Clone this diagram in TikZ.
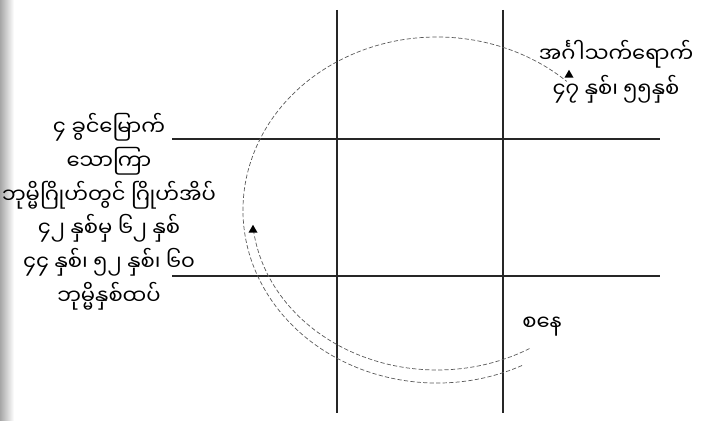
\documentclass[tikz,border=0pt]{standalone}
\usepackage{fontspec}
\newfontfamily\mmfont[Script=Myanmar]{Noto Sans Myanmar UI}
\usepackage{tikz}
\usetikzlibrary{shapes.geometric}
\tikzset{
  % grid lines of the chart
  gridline/.style={line width=0.8pt, black!85},
  % dashed paths round the chart
  orbit/.style={dash pattern=on 3pt off 1.6pt, line width=0.5pt, black!65},
  marker/.style={regular polygon, regular polygon sides=3, fill=black, inner sep=0pt, minimum size=2.6mm},
  mmtext/.style={font=\mmfont\fontsize{15}{24}\selectfont, align=center, inner sep=0pt},
}
\begin{document}
\begin{tikzpicture}[x=0.025cm, y=0.025cm]
    \useasboundingbox (0,0) rectangle (701,420);
    % scanned left edge
    \shade[left color=black!35, right color=white] (0,0) rectangle (14,420);
    % Grid: two columns, two rows
    \def\xA{337} \def\xB{503} \def\yT{281} \def\yB{144}
    \foreach \x in {\xA, \xB} {
      \draw[gridline] (\x,410) -- (\x,7);
    }
    \foreach \y in {\yT, \yB} {
      \draw[gridline] (172,\y) -- (660,\y);
    }
    % Paths, centre (437,210)
    \draw[orbit] (437,210) ++(296:194 and 173) arc[start angle=296, end angle=48, x radius=194, y radius=173];
    \draw[orbit] (437,210) ++(300:185 and 160) arc[start angle=300, end angle=187, x radius=185, y radius=160];
    \node[marker] (tipR) at (569,345) {};
    \node[marker] (tipL) at (253,190) {};
    % Labels
    \node[mmtext] (friday) at (109,208) {၄ ခွင်မြောက်\\သောကြာ\\ဘုမ္မိဂြိုဟ်တွင် ဂြိုဟ်အိပ်\\၄၂ နှစ်မှ ၆၂ နှစ်\\၄၄ နှစ်၊ ၅၂ နှစ်၊ ၆၀\\ဘုမ္မိနှစ်ထပ်};
    \node[mmtext, font=\mmfont\fontsize{15}{25}\selectfont] (mars) at (616,348) {အင်္ဂါသက်ရောက်\\၄၇ နှစ်၊ ၅၅နှစ်};
    \node[mmtext] (saturday) at (542,93) {စနေ};
\end{tikzpicture}
\end{document}
